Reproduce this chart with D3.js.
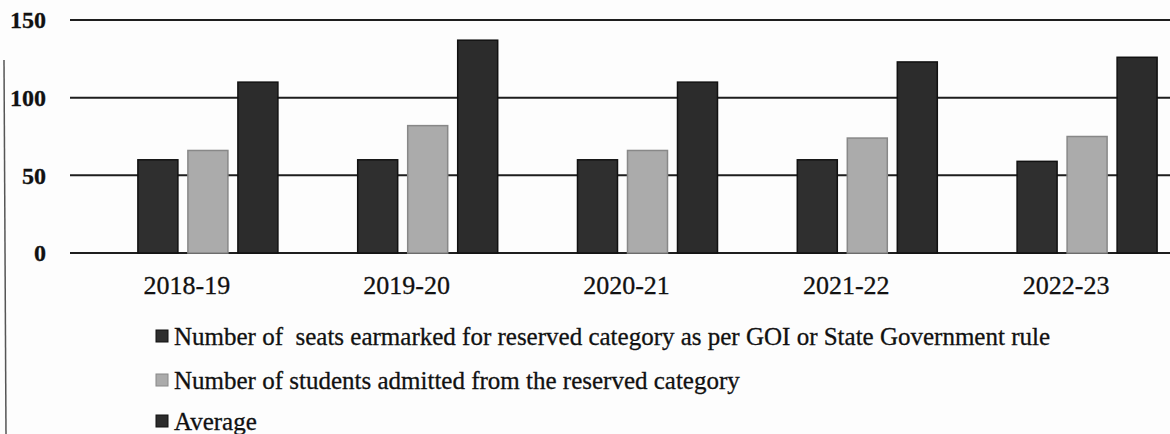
<!DOCTYPE html>
<html>
<head>
<meta charset="utf-8">
<script src="https://cdn.jsdelivr.net/npm/d3@7"></script>
<style>
  body { margin: 0; background: #fdfdfd; }
  svg { display: block; font-family: "Liberation Serif", "DejaVu Serif", serif; }
  .tick-label { fill: #111; stroke: #111; stroke-width: 0.3px; }
  .legend-label { font-size: 25px; fill: #111; stroke: #111; stroke-width: 0.3px; }
</style>
</head>
<body>
<div id="chart"></div>
<script>
// data
const years = ['2018-19', '2019-20', '2020-21', '2021-22', '2022-23'];
const seatsEarmarked = [60, 60, 60, 60, 59];
const studentsAdmitted = [66, 82, 66, 74, 75];
const average = [110, 137, 110, 123, 126];
const seriesNames = [
  'Number of  seats earmarked for reserved category as per GOI or State Government rule',
  'Number of students admitted from the reserved category',
  'Average'
];
const yTicks = [0, 50, 100, 150];

const seriesColors = ['#2f2f2f', '#ababab', '#2c2c2c'];
const seriesStroke = ['#111', '#888', '#111'];

const width = 1170, height = 434;

const svg = d3.select('#chart').append('svg')
  .attr('width', width)
  .attr('height', height);

const yScale = d3.scaleLinear()
  .domain([0, 150])
  .range([253, 20]);

const x0 = d3.scaleBand()
  .domain(years)
  .range([98, 1197])
  .paddingInner(0.363)
  .paddingOuter(0.1815);

const x1 = d3.scaleBand()
  .domain(d3.range(3))
  .range([0, x0.bandwidth()])
  .padding(0.2)
  .paddingOuter(0);

// page edge from the photo
svg.append('line')
  .attr('x1', 4).attr('x2', 6)
  .attr('y1', 60).attr('y2', height)
  .attr('stroke', '#555')
  .attr('stroke-width', 1.5);

// gridlines
svg.selectAll('.grid-line')
  .data(yTicks)
  .enter()
  .append('line')
  .attr('class', 'grid-line')
  .attr('x1', 70)
  .attr('x2', width)
  .attr('y1', d => yScale(d))
  .attr('y2', d => yScale(d))
  .attr('stroke', '#1e1e1e')
  .attr('stroke-width', 2);

// y labels
svg.selectAll('.y-label')
  .data(yTicks)
  .enter()
  .append('text')
  .attr('class', 'tick-label')
  .attr('x', 46)
  .attr('y', d => yScale(d))
  .attr('dy', '0.35em')
  .attr('text-anchor', 'end')
  .style('font-size', '24px')
  .style('font-weight', 'bold')
  .text(d => d);

// bars
const rows = years.map((y, i) => ({
  year: y,
  values: [seatsEarmarked[i], studentsAdmitted[i], average[i]]
}));

const groups = svg.selectAll('.group')
  .data(rows)
  .enter()
  .append('g')
  .attr('class', 'group')
  .attr('transform', d => `translate(${x0(d.year)},0)`);

groups.selectAll('rect')
  .data(d => d.values.map((v, k) => ({ k, v })))
  .enter()
  .append('rect')
  .attr('x', d => x1(d.k))
  .attr('y', d => yScale(d.v))
  .attr('width', x1.bandwidth())
  .attr('height', d => yScale(0) - yScale(d.v))
  .attr('fill', d => seriesColors[d.k])
  .attr('stroke', d => seriesStroke[d.k])
  .attr('stroke-width', 1.5);

// x labels (sit a bit left of the group centres in the photo)
svg.selectAll('.x-label')
  .data(years)
  .enter()
  .append('text')
  .attr('class', 'tick-label')
  .attr('x', d => x0(d) + x0.bandwidth() / 2 - 21)
  .attr('y', 285)
  .attr('dy', '0.35em')
  .attr('text-anchor', 'middle')
  .style('font-size', '26px')
  .text(d => d);

// legend
const legendY = [336, 380, 421];
const legend = svg.selectAll('.legend')
  .data(seriesNames)
  .enter()
  .append('g')
  .attr('class', 'legend')
  .attr('transform', (d, i) => `translate(156,${legendY[i]})`);

legend.append('rect')
  .attr('x', 0)
  .attr('y', -6)
  .attr('width', 12)
  .attr('height', 12)
  .attr('fill', (d, i) => seriesColors[i])
  .attr('stroke', (d, i) => seriesStroke[i]);

legend.append('text')
  .attr('class', 'legend-label')
  .attr('x', 18)
  .attr('y', 0)
  .attr('dy', '0.35em')
  .style('white-space', 'pre')
  .text(d => d);
</script>
</body>
</html>
